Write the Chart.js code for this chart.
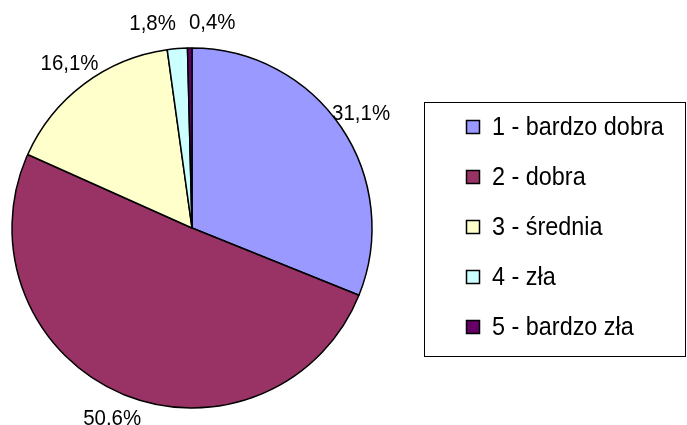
<!DOCTYPE html>
<html>
<head>
<meta charset="utf-8">
<script src="https://cdn.jsdelivr.net/npm/chart.js@4"></script>
<style>
  html, body { margin: 0; padding: 0; background: #fff; }
  #wrap { width: 687px; height: 425px; }
</style>
</head>
<body>
<div id="wrap"><canvas id="ocena"></canvas></div>
<script>
    "use strict";

    var categories = ['1 - bardzo dobra', '2 - dobra', '3 - średnia', '4 - zła', '5 - bardzo zła'];
    var values = [31.1, 50.6, 16.1, 1.8, 0.4];
    var valueLabels = ['31,1%', '50.6%', '16,1%', '1,8%', '0,4%'];
    var colors = ['#9999FF', '#993366', '#FFFFCC', '#CCFFFF', '#660066'];

    var FONT = '"Liberation Sans", Arial, sans-serif';

    /** Text drawn slightly condensed, like the Excel export */
    function narrowText(ctx, text, x, y, sx) {
        ctx.save();
        ctx.translate(x, y);
        ctx.scale(sx, 1);
        ctx.fillText(text, 0, 0);
        ctx.restore();
    }

    /** Labels just outside the slices, pushed apart when they collide */
    var sliceLabels = {
        id: 'sliceLabels',
        afterDatasetsDraw: function(chart) {
            var ctx = chart.ctx;
            var arcs = chart.getDatasetMeta(0).data;
            var sx = 0.93;
            ctx.save();
            ctx.font = '22px ' + FONT;
            ctx.fillStyle = '#000';
            ctx.textAlign = 'center';
            ctx.textBaseline = 'middle';
            var boxes = arcs.map(function(arc, i) {
                var p = arc.getProps(['x', 'y', 'startAngle', 'endAngle', 'outerRadius']);
                var mid = (p.startAngle + p.endAngle) / 2;
                var r = p.outerRadius + 24;
                return {
                    x: p.x + Math.cos(mid) * r,
                    y: p.y + Math.sin(mid) * (r + 2),
                    w: ctx.measureText(valueLabels[i]).width * sx,
                    text: valueLabels[i]
                };
            });
            // separate neighbours that overlap
            for (var i = 0; i < boxes.length; i++) {
                for (var j = i + 1; j < boxes.length; j++) {
                    var a = boxes[i], b = boxes[j];
                    if (Math.abs(a.y - b.y) < 22) {
                        var need = (a.w + b.w) / 2 + 13;
                        var gap = Math.abs(a.x - b.x);
                        if (gap < need) {
                            var mean = (a.x + b.x) / 2;
                            var sign = a.x < b.x ? -1 : 1;
                            a.x = mean + sign * need / 2;
                            b.x = mean - sign * need / 2;
                        }
                    }
                }
            }
            boxes.forEach(function(bx) {
                narrowText(ctx, bx.text, bx.x, bx.y + 1, sx);
            });
            ctx.restore();
        }
    };

    /** Boxed legend on the right, Excel style */
    var boxLegend = {
        id: 'boxLegend',
        afterDraw: function(chart) {
            var ctx = chart.ctx;
            var left = 424, top = 102, right = 686, bottom = 357;
            ctx.save();
            ctx.strokeStyle = '#000';
            ctx.lineWidth = 1;
            ctx.strokeRect(left + 0.5, top + 0.5, right - left - 1, bottom - top - 1);
            ctx.font = '26px ' + FONT;
            ctx.textBaseline = 'middle';
            ctx.textAlign = 'left';
            var rowH = 50;
            var y0 = 127;
            categories.forEach(function(label, i) {
                var y = y0 + i * rowH;
                ctx.fillStyle = colors[i];
                ctx.fillRect(466.5, y - 6.5, 13, 13);
                ctx.strokeStyle = '#000';
                ctx.lineWidth = 1.5;
                ctx.strokeRect(466.5, y - 6.5, 13, 13);
                ctx.fillStyle = '#000';
                narrowText(ctx, label, 492, y + 1, 0.9);
            });
            ctx.restore();
        }
    };

    var ctx = document.getElementById('ocena').getContext('2d');
    var ocenaChart = new Chart(ctx, {
        type: 'pie',
        data: {
            labels: categories,
            datasets: [{
                data: values,
                backgroundColor: colors,
                borderColor: '#000',
                borderWidth: 1.5,
                hoverOffset: 0
            }]
        },
        options: {
            responsive: true,
            maintainAspectRatio: false,
            animation: false,
            radius: 180,
            layout: {
                padding: { left: 0, right: 303, top: 48, bottom: 17 }
            },
            plugins: {
                legend: { display: false },
                tooltip: { enabled: false }
            }
        },
        plugins: [sliceLabels, boxLegend]
    });
</script>
</body>
</html>
